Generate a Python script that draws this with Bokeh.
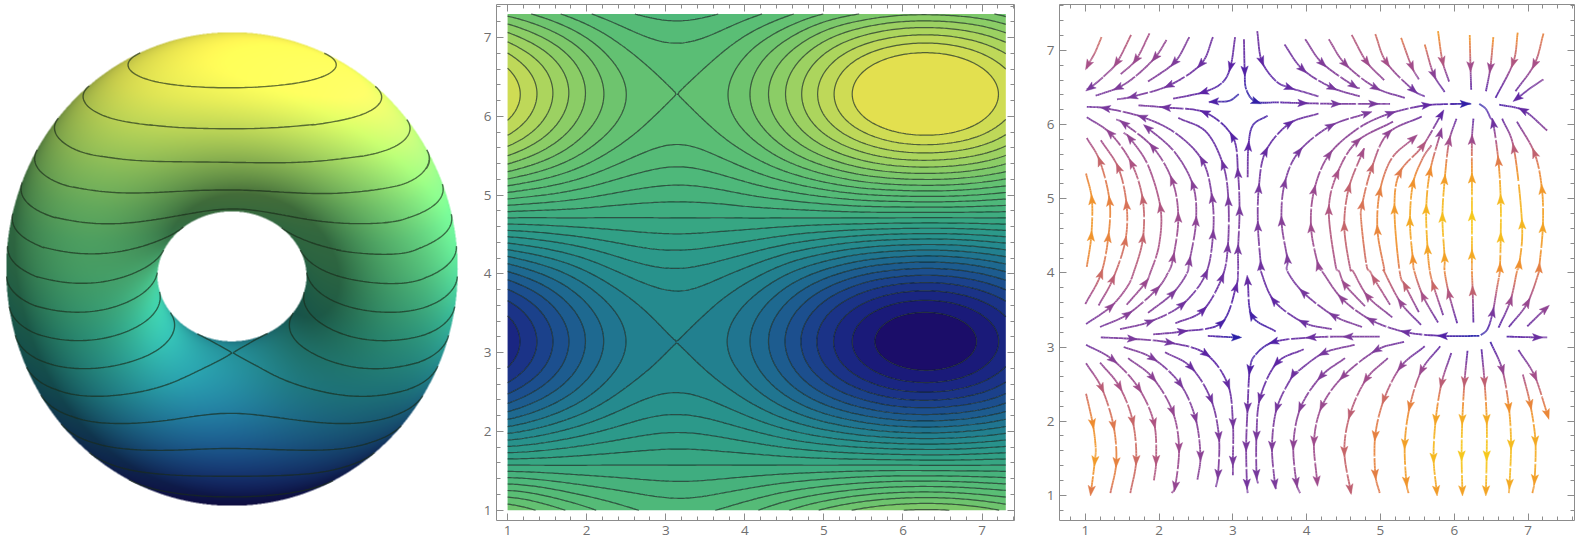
import numpy as np
from bokeh.embed import file_html
from bokeh.layouts import row
from bokeh.models import ColumnDataSource, CustomLabelingPolicy, FixedTicker, LinearAxis, Range1d
from bokeh.plotting import figure
from bokeh.plotting.contour import contour_data
from bokeh.resources import INLINE

# ------------------------------------------------------------- data
X_SAMPLES = [1.0, 1.45, 1.9, 2.35, 2.8, 3.25, 3.7, 4.15, 4.6, 5.05, 5.5, 5.95, 6.4, 6.85, 7.3]
Y_SAMPLES = [1.0, 1.45, 1.9, 2.35, 2.8, 3.25, 3.7, 4.15, 4.6, 5.05, 5.5, 5.95, 6.4, 6.85, 7.3]
Z_TABLE = [
    [1.37, 1.15, .91, .70, .57, .54, .62, .79, 1.02, 1.26, 1.46, 1.59, 1.62, 1.54, 1.36],
    [.31, .26, .20, .16, .13, .12, .14, .18, .23, .28, .33, .36, .36, .34, .31],
    [-.82, -.69, -.54, -.42, -.34, -.32, -.37, -.47, -.61, -.75, -.87, -.95, -.97, -.92, -.82],
    [-1.79, -1.49, -1.18, -.91, -.74, -.71, -.81, -1.03, -1.33, -1.64, -1.90, -2.07, -2.10, -2.00, -1.78],
    [-2.39, -2.00, -1.58, -1.22, -1.00, -.95, -1.09, -1.38, -1.78, -2.20, -2.55, -2.77, -2.82, -2.68, -2.38],
    [-2.52, -2.11, -1.67, -1.29, -1.05, -1.00, -1.15, -1.46, -1.88, -2.32, -2.69, -2.93, -2.98, -2.83, -2.51],
    [-2.15, -1.80, -1.42, -1.10, -.90, -.85, -.98, -1.24, -1.60, -1.98, -2.30, -2.50, -2.54, -2.41, -2.14],
    [-1.36, -1.13, -.90, -.69, -.56, -.54, -.62, -.78, -1.01, -1.24, -1.45, -1.57, -1.60, -1.52, -1.35],
    [-.28, -.24, -.19, -.15, -.12, -.11, -.13, -.16, -.21, -.26, -.30, -.33, -.34, -.32, -.28],
    [.84, .70, .56, .43, .35, .33, .38, .49, .62, .77, .90, .97, .99, .94, .84],
    [1.80, 1.50, 1.19, .92, .75, .71, .82, 1.04, 1.34, 1.65, 1.92, 2.09, 2.12, 2.02, 1.79],
    [2.40, 2.00, 1.58, 1.23, 1.00, .95, 1.09, 1.39, 1.78, 2.20, 2.56, 2.78, 2.83, 2.69, 2.39],
    [2.52, 2.11, 1.67, 1.29, 1.05, .9989, 1.14, 1.46, 1.87, 2.31, 2.69, 2.92, 2.97, 2.82, 2.51],
    [2.14, 1.79, 1.42, 1.09, .89, .85, .97, 1.24, 1.59, 1.97, 2.29, 2.49, 2.53, 2.40, 2.13],
    [1.34, 1.12, .88, .68, .56, .53, .61, .77, .99, 1.23, 1.42, 1.55, 1.57, 1.50, 1.33],
]
LEVELS = [-2.8, -2.6, -2.4, -2.2, -2.0, -1.8, -1.6, -1.4, -1.2, -1.0, -.8, -.6, -.4, -.2, 0.0,
          .2, .4, .6, .8, 1.0, 1.2, 1.4, 1.6, 1.8, 2.0, 2.2, 2.4, 2.6]
TORUS_LEVELS = [-2.85, -2.48, -2.11, -1.74, -1.37, -1.0, -.63, -.26, .11, .48, .85, 1.22, 1.59, 1.96, 2.33, 2.7]
COLOR_VALUES = [-3.0, -2.6, -2.2, -1.8, -1.4, -1.0, -.6, -.2, .2, .6, 1.0, 1.4, 1.8, 2.2, 2.6, 3.0]
COLOR_HEX = ["#1b0a66", "#1a1f7f", "#1b3a8a", "#1c568f", "#1f6f90", "#23868f", "#2a968b", "#33a385",
             "#43b07e", "#52ba78", "#5dbf74", "#74c66c", "#93cf64", "#b5d75b", "#d8dd52", "#e9e14d"]
SPEED_VALUES = [0.0, .5, 1.0, 1.5, 2.0, 2.3, 2.6, 3.0]
SPEED_HEX = ["#1f1fa8", "#5a23a5", "#7a3a9c", "#a85088", "#da7455", "#ee8c30", "#f3a425", "#f6c81c"]
MAJOR_TICKS = [1, 2, 3, 4, 5, 6, 7]
MINOR_TICKS = [.8, 1.2, 1.4, 1.6, 1.8, 2.2, 2.4, 2.6, 2.8, 3.2, 3.4, 3.6, 3.8, 4.2, 4.4, 4.6, 4.8,
               5.2, 5.4, 5.6, 5.8, 6.2, 6.4, 6.6, 6.8, 7.2, 7.4, 7.6]

# Streamlines in flow order; a third element 1 marks an arrowhead at that point.
STREAMS = [
    [(1.22,7.18),(1.13,6.97),(1.04,6.81,1),(1.02,6.76)],
    [(1.62,7.21),(1.43,6.84,1),(1.25,6.65),(1.07,6.50,1),(1.02,6.48)],
    [(1.87,7.23),(1.69,6.88,1),(1.48,6.68)],
    [(2.10,7.14),(1.95,6.91,1),(1.69,6.66),(1.45,6.50,1),(1.14,6.39)],
    [(2.41,7.18),(2.21,6.84,1),(1.85,6.58)],
    [(2.73,7.18),(2.57,6.82,1),(2.14,6.53,1),(1.65,6.38,1),(1.43,6.34)],
    [(3.03,7.18),(2.97,6.79,1),(2.86,6.57),(2.61,6.44,1),(2.19,6.35)],
    [(3.15,7.15),(3.16,6.73,1),(3.18,6.48),(3.31,6.31,1),(3.62,6.30),(3.94,6.29,1),(4.39,6.28,1),(4.90,6.28,1),(5.13,6.28)],
    [(3.33,7.26),(3.39,6.86,1),(3.58,6.59),(3.76,6.50,1),(3.96,6.44),(4.16,6.38)],
    [(3.70,7.08),(3.94,6.75,1),(4.34,6.50,1),(4.72,6.38)],
    [(3.98,7.15),(4.21,6.83,1),(4.63,6.53,1),(4.72,6.49)],
    [(4.30,7.15),(4.52,6.82,1),(4.93,6.50,1),(5.33,6.36)],
    [(4.61,7.21),(4.81,6.85,1),(5.05,6.60)],
    [(4.93,7.22),(5.08,6.84,1),(5.44,6.47,1),(5.60,6.38)],
    [(5.28,7.17),(5.42,6.79,1),(5.52,6.61)],
    [(5.60,7.08),(5.72,6.68,1),(5.87,6.44)],
    [(5.78,7.26),(5.84,6.86,1),(5.93,6.58)],
    [(6.21,7.21),(6.22,6.79,1),(6.23,6.47)],
    [(6.53,7.18),(6.49,6.77,1),(6.43,6.45)],
    [(6.86,7.24),(6.80,6.84,1),(6.56,6.36)],
    [(7.21,7.23),(7.09,6.82,1),(6.83,6.45)],
    [(7.21,6.61),(7.03,6.49),(6.86,6.36,1)],
    [(7.26,5.92),(6.94,6.19,1),(6.61,6.27)],
    [(6.34,3.15),(5.85,3.15,1),(5.35,3.20,1),(4.88,3.36,1),(4.48,3.65,1),(4.21,4.02),(4.16,4.09,1),(4.06,4.60,1),(4.10,5.11,1),(4.30,5.59,1),(4.70,5.95),(5.13,6.15,1),(5.62,6.26,1),(6.14,6.28,1),(6.23,6.28)],
    [(4.79,3.55),(4.52,3.84,1),(4.44,4.02),(4.39,4.11),(4.30,4.84,1),(4.41,5.33,1),(4.68,5.77,1),(5.17,6.04)],
    [(5.16,3.40),(4.83,3.68,1),(4.63,4.02),(4.59,4.06),(4.51,4.62,1),(4.57,5.14,1),(4.75,5.61,1),(4.78,5.68)],
    [(5.13,3.57),(4.92,3.91,1),(4.86,4.02),(4.81,4.11),(4.74,4.69),(4.75,4.91,1),(4.88,5.41,1),(5.10,5.88,1),(5.56,6.11)],
    [(5.55,3.30),(5.28,3.59,1),(5.05,4.02),(5.05,4.06),(4.96,4.57,1),(4.99,5.09,1),(5.15,5.54),(5.44,5.81,1)],
    [(5.52,3.47),(5.34,3.82,1),(5.26,4.02),(5.19,4.85,1),(5.26,5.35,1),(5.57,5.71,1),(5.82,6.13,1)],
    [(5.78,3.33),(5.58,3.68,1),(5.46,4.02),(5.44,4.18,1),(5.40,4.69,1),(5.44,5.20,1),(5.57,5.54),(5.69,5.72)],
    [(5.85,3.43),(5.72,3.82,1),(5.67,4.02),(5.64,4.31,1),(5.62,4.85,1),(5.67,5.36,1),(5.81,5.88,1)],
    [(6.04,3.32),(5.93,3.71,1),(5.87,4.02),(5.87,4.20,1),(5.84,4.74,1),(5.87,5.25,1),(5.93,5.77,1),(6.03,6.08)],
    [(6.26,3.33),(6.25,3.75,1),(6.24,4.02),(6.24,4.24,1),(6.24,4.76,1),(6.24,5.27,1),(6.24,5.79,1),(6.26,6.08)],
    [(6.36,3.16),(6.45,3.24),(6.52,3.46,1),(6.58,3.80),(6.62,4.02),(6.62,4.06,1),(6.63,4.47,1),(6.63,4.98,1),(6.60,5.50,1),(6.53,6.01,1),(6.49,6.09),(6.43,6.21),(6.34,6.28)],
    [(6.60,3.26),(6.76,3.62,1),(6.85,4.02),(6.88,4.11,1),(6.92,4.65,1),(6.81,5.67,1),(6.65,6.08)],
    [(6.74,3.27),(6.99,3.59,1),(7.15,4.02),(7.15,4.06,1),(7.20,4.60,1),(7.19,5.12,1),(7.09,5.61,1),(6.85,6.04)],
    [(6.99,3.28),(7.23,3.51,1),(7.27,3.53)],
    [(6.71,3.14),(7.12,3.13,1),(7.26,3.13)],
    [(5.32,3.07),(4.95,2.96,1),(4.50,2.61,1),(4.21,2.21,1),(4.10,1.74,1),(4.14,1.20,1)],
    [(5.10,2.85),(4.81,2.57,1),(4.59,2.10,1),(4.51,1.60,1),(4.59,1.09,1),(4.60,1.03)],
    [(5.60,3.01),(5.28,2.74,1),(5.05,2.30,1),(4.93,1.81,1),(4.93,1.29,1),(4.99,1.03)],
    [(5.81,3.01),(5.56,2.69,1),(5.40,2.21,1),(5.33,1.70,1),(5.35,1.19,1),(5.38,1.03)],
    [(5.96,2.92),(5.83,2.52,1),(5.75,2.03,1),(5.72,1.51,1),(5.76,1.07,1)],
    [(6.18,2.95),(6.14,2.54,1),(6.11,2.03,1),(6.10,1.54,1),(6.11,1.07,1)],
    [(6.37,2.97),(6.41,2.54,1),(6.44,2.03,1),(6.44,1.54,1),(6.43,1.07,1)],
    [(6.49,3.07),(6.65,2.70,1),(6.74,2.19,1),(6.77,1.69,1),(6.75,1.16,1),(6.74,1.03)],
    [(6.87,2.96),(7.09,2.61,1),(7.26,2.10,1)],
    [(6.93,2.63),(7.03,2.23,1),(7.10,1.74,1),(7.09,1.22,1),(7.06,1.03)],
    [(1.02,4.08),(1.08,4.49,1),(1.09,4.98,1),(1.01,5.34)],
    [(1.00,3.58),(1.21,3.98,1),(1.31,4.47,1),(1.33,4.96,1),(1.20,5.50,1),(1.02,5.82)],
    [(1.18,3.56),(1.37,3.91,1),(1.54,4.42,1),(1.56,4.91,1),(1.45,5.41,1),(1.21,5.79)],
    [(1.01,3.31),(1.34,3.54,1),(1.56,3.80),(1.66,4.02),(1.78,4.46,1),(1.78,4.98,1),(1.63,5.47,1),(1.34,5.88,1),(1.02,6.10)],
    [(1.56,3.57),(1.81,3.86,1),(1.88,4.00),(2.00,4.38),(2.02,4.87,1),(1.85,5.45),(1.61,5.81,1),(1.52,5.89)],
    [(1.20,3.27),(1.57,3.44,1),(1.96,3.77,1),(2.12,4.00),(2.19,4.20,1),(2.26,4.74,1),(2.18,5.24,1),(1.92,5.69,1),(1.53,6.01,1),(1.42,6.07)],
    [(1.85,3.46),(2.18,3.72,1),(2.37,3.98),(2.41,4.15,1),(2.50,4.69,1),(2.46,5.18,1),(2.21,5.63),(1.85,5.95,1),(1.81,5.97)],
    [(1.47,3.24),(1.87,3.34,1),(2.31,3.57,1),(2.63,3.98,1),(2.73,4.51,1),(2.72,5.00,1),(2.59,5.51,1),(2.23,5.88),(1.78,6.10,1),(1.28,6.22,1),(1.02,6.24)],
    [(2.22,3.32),(2.59,3.49,1),(2.85,3.93,1),(2.93,4.33,1),(2.94,4.96,1),(2.87,5.45,1),(2.64,5.90),(2.26,6.09)],
    [(1.92,3.17),(2.31,3.21,1),(2.84,3.32,1),(3.04,3.80,1),(3.07,4.02),(3.07,4.31,1),(3.09,4.83,1),(3.07,5.34,1),(3.00,5.83,1),(2.63,6.16,1),(2.10,6.23,1),(1.72,6.26)],
    [(3.08,6.41),(2.95,6.32),(2.75,6.31,1),(2.68,6.30)],
    [(3.20,5.29),(3.21,5.70,1),(3.27,5.99),(3.47,6.12)],
    [(4.34,3.24),(3.96,3.33,1),(3.56,3.62,1),(3.38,4.02),(3.38,4.09,1),(3.34,4.62,1),(3.35,5.13,1),(3.44,5.63,1),(3.76,6.01,1),(4.16,6.15)],
    [(4.75,3.27),(4.37,3.42,1),(3.96,3.73,1),(3.74,4.02),(3.74,4.18,1),(3.66,4.69,1),(3.70,5.20,1),(3.89,5.63,1),(4.32,5.98,1),(4.81,6.15,1)],
    [(1.21,3.13),(1.63,3.11,1),(2.14,3.06,1),(2.63,2.91,1),(2.93,2.50,1),(3.00,1.98,1),(3.00,1.47,1),(3.00,1.27)],
    [(1.01,2.37),(1.10,1.97,1),(1.14,1.65),(1.13,1.47,1),(1.08,1.07,1)],
    [(1.01,2.78),(1.22,2.45,1),(1.38,1.95,1),(1.42,1.45,1),(1.34,1.03)],
    [(1.20,2.79),(1.46,2.47,1),(1.64,2.01,1),(1.69,1.48,1),(1.61,1.03)],
    [(1.01,3.03),(1.37,2.83,1),(1.72,2.45,1),(1.93,1.98,1),(1.96,1.48,1),(1.93,1.20)],
    [(1.58,2.85),(1.91,2.59,1),(2.18,2.14,1),(2.27,1.65,1),(2.22,1.13,1),(2.17,1.03)],
    [(1.52,3.00),(1.91,2.85,1),(2.28,2.51,1),(2.49,2.05,1),(2.56,1.54,1),(2.52,1.21)],
    [(2.08,2.93),(2.43,2.73,1),(2.70,2.30,1),(2.81,1.80,1),(2.80,1.29,1),(2.77,1.11)],
    [(2.66,3.15),(3.04,3.13,1),(3.08,3.15)],
    [(3.58,3.21),(3.26,3.42,1),(3.20,3.89,1)],
    [(4.99,3.14),(4.57,3.14,1),(4.07,3.13,1),(3.56,3.07,1),(3.31,2.90),(3.23,2.70,1),(3.20,2.19,1),(3.18,1.67,1),(3.19,1.16,1),(3.20,1.03)],
    [(3.96,2.97),(3.60,2.79,1),(3.37,2.32,1),(3.32,1.81,1),(3.32,1.29,1),(3.34,1.16)],
    [(4.65,3.03),(4.23,2.92,1),(3.89,2.68),(3.82,2.63,1),(3.60,2.19,1),(3.53,1.67,1),(3.57,1.16,1),(3.59,1.09)],
    [(4.52,2.85),(4.20,2.61,1),(3.92,2.19,1),(3.82,1.69,1),(3.86,1.18,1),(3.91,1.03)],
]

# ------------------------------------------------------------- helpers
GRAY = "#8c8c8c"
LABEL = "#6f6f6f"


def weights(nodes, t):
    """Smooth display-resolution weights over the read-off table."""
    nodes = np.asarray(nodes, float)
    h = nodes[1] - nodes[0]
    out = np.zeros((len(t), len(nodes)))
    for r, tv in enumerate(t):
        i = int(np.clip(np.floor((tv - nodes[0]) / h) - 2, 0, len(nodes) - 6))
        for j in range(i, i + 6):
            w = 1.0
            for m in range(i, i + 6):
                if m != j:
                    w *= (tv - nodes[m]) / (nodes[j] - nodes[m])
            out[r, j] = w
    return out


def hex_rgb(cols):
    return np.array([[int(c[i:i + 2], 16) for i in (1, 3, 5)] for c in cols], float)


def ramp(v, vals, cols):
    rgb_ = hex_rgb(cols)
    return np.stack([np.interp(v, vals, rgb_[:, k]) for k in range(3)], axis=-1)


def to_hex(c):
    return "#%02x%02x%02x" % tuple(int(round(a_)) for a_ in np.clip(c, 0, 255))


table = np.array(Z_TABLE)
xf = np.linspace(X_SAMPLES[0], X_SAMPLES[-1], 211)
yf = np.linspace(Y_SAMPLES[0], Y_SAMPLES[-1], 211)
Zf = weights(Y_SAMPLES, yf) @ table @ weights(X_SAMPLES, xf).T

# ------------------------------------------------------------- torus view
TILT = np.radians(28.0)
DIST = 22.0
LIGHT = np.array([0.42, 0.50, 0.76])
LIGHT = LIGHT / np.linalg.norm(LIGHT)
BOX = (6.0, 457.0, 32.0, 505.0)
c_t, s_t = np.cos(TILT), np.sin(TILT)


def project(u, v):
    ring = 2 + np.cos(u)
    xr, hh, zz = ring * np.sin(v), ring * np.cos(v), np.sin(u)
    up = hh * c_t - zz * s_t
    d = hh * s_t + zz * c_t
    k = DIST / (DIST - d)
    return xr * k, up * k, d


n_u, n_v = 1600, 3400
u_s = 1 + 2 * np.pi * np.arange(n_u) / n_u
v_s = 1 + 2 * np.pi * np.arange(n_v) / n_v
Zt = weights(Y_SAMPLES, v_s) @ table @ weights(X_SAMPLES, u_s).T
UU, VV = np.meshgrid(u_s, v_s)
sx_, sy_, dep = project(UU, VV)
xmin, xmax, ymin, ymax = sx_.min(), sx_.max(), sy_.min(), sy_.max()
scale_x = (BOX[1] - BOX[0]) / (xmax - xmin)
scale_y = (BOX[3] - BOX[2]) / (ymax - ymin)


def to_page(xr, up):
    return BOX[0] + (xr - xmin) * scale_x, BOX[2] + (ymax - up) * scale_y


T_W, T_H = 472, 541
SS = 2
px, py = to_page(sx_, sy_)
ix = np.clip((px * SS).astype(int), 0, T_W * SS - 1).ravel()
iy = np.clip((py * SS).astype(int), 0, T_H * SS - 1).ravel()
order = np.argsort(dep.ravel())
buf = -np.ones((T_H * SS, T_W * SS), dtype=np.int64)
buf[iy[order], ix[order]] = order
# close single-pixel sampling holes
left, right = np.roll(buf, 1, axis=1), np.roll(buf, -1, axis=1)
hole = (buf < 0) & (left >= 0) & (right >= 0)
buf[hole] = left[hole]
mask = buf >= 0
win = buf[mask]
uw, vw = UU.ravel()[win], VV.ravel()[win]
nx = np.cos(uw) * np.sin(vw)
nh = np.cos(uw) * np.cos(vw)
nz = np.sin(uw)
n_up = nh * c_t - nz * s_t
n_to = nh * s_t + nz * c_t
diff = np.clip(nx * LIGHT[0] + n_up * LIGHT[1] + n_to * LIGHT[2], 0, 1)
shade = 0.50 + 0.62 * diff + 0.35 * np.clip(nx, 0, 1) ** 3
base = ramp(Zt.ravel()[win], COLOR_VALUES, COLOR_HEX) * 1.08
rgb = np.clip(base * shade[:, None], 0, 255)
depth_buf = np.full(buf.shape, -np.inf)
depth_buf[mask] = dep.ravel()[win]
canvas = np.zeros((T_H * SS, T_W * SS, 4))
canvas[mask, :3] = rgb
canvas[mask, 3] = 1.0
pm = canvas.copy()
pm[..., :3] *= pm[..., 3:4]
small = pm.reshape(T_H, SS, T_W, SS, 4).mean(axis=(1, 3))
a = small[..., 3:4]
col = np.where(a > 0, small[..., :3] / np.maximum(a, 1e-6), 255)
rgba = np.zeros((T_H, T_W), dtype=np.uint32)
view8 = rgba.view(np.uint8).reshape(T_H, T_W, 4)
view8[..., :3] = np.clip(col, 0, 255).astype(np.uint8)
view8[..., 3] = np.clip(a[..., 0] * 255, 0, 255).astype(np.uint8)

p1 = figure(width=T_W, height=T_H, x_range=Range1d(0, T_W), y_range=Range1d(0, T_H),
            toolbar_location=None, output_backend="svg", x_axis_location=None, y_axis_location=None,
            min_border=0, outline_line_color=None, background_fill_color="white", border_fill_color="white",
            frame_align=False)
p1.grid.visible = False
p1.image_rgba(image=[rgba[::-1]], x=0, y=0, dw=T_W, dh=T_H)

lines = contour_data(xf, yf, Zf, TORUS_LEVELS, want_fill=False, want_line=True).line_data
tx, ty = [], []
for xs_l, ys_l in zip(lines.xs, lines.ys):
    xs_l, ys_l = np.asarray(xs_l, float), np.asarray(ys_l, float)
    good = ~np.isnan(xs_l)
    vx, vy, vd = project(np.nan_to_num(xs_l), np.nan_to_num(ys_l))
    qx, qy = to_page(vx, vy)
    jx = np.clip((qx * SS).astype(int), 0, T_W * SS - 1)
    jy = np.clip((qy * SS).astype(int), 0, T_H * SS - 1)
    vis = good & (vd >= depth_buf[jy, jx] - 0.1)
    tx.extend(np.where(vis, qx, np.nan).tolist() + [np.nan])
    ty.extend(np.where(vis, T_H - qy, np.nan).tolist() + [np.nan])
p1.line(tx, ty, line_color="#1a2a1a", line_alpha=0.66, line_width=1.4)

NO_LABELS = CustomLabelingPolicy(code="for (const i of Array.from(indices)) indices.unset(i); return indices;")


# ------------------------------------------------------------- framed panels
def frame(p):
    for side in ("above", "right"):
        ax = LinearAxis(major_label_text_font_size="1px", major_label_standoff=0, major_label_policy=NO_LABELS)
        p.add_layout(ax, side)
    for ax in p.axis:
        ax.ticker = FixedTicker(ticks=MAJOR_TICKS, minor_ticks=MINOR_TICKS)
        ax.major_tick_in, ax.major_tick_out = 7, 0
        ax.minor_tick_in, ax.minor_tick_out = 4, 0
        ax.axis_line_color = GRAY
        ax.major_tick_line_color = GRAY
        ax.minor_tick_line_color = GRAY
        ax.major_label_text_color = LABEL
    for ax in list(p.below) + list(p.left):
        ax.major_label_text_font = "Open Sans"
        ax.major_label_text_font_size = "13.5px"
        ax.major_label_standoff = 5
    p.grid.visible = False
    p.outline_line_color = None


levels_all = [-3.2] + LEVELS + [3.2]
mids = [(levels_all[i] + levels_all[i + 1]) / 2 for i in range(len(levels_all) - 1)]
mids[0], mids[-1] = -2.95, 2.85
band_cols = [to_hex(ramp(m, COLOR_VALUES, COLOR_HEX)) for m in mids]

p2 = figure(width=568, height=541, x_range=Range1d(0.86, 7.41), y_range=Range1d(0.87, 7.42),
            toolbar_location=None, output_backend="svg", frame_align=False,
            min_border_left=24, min_border_right=26, min_border_top=2, min_border_bottom=21)
p2.contour(xf, yf, Zf, levels_all, fill_color=band_cols, line_color="#10201a", line_alpha=0.68, line_width=1.2)
frame(p2)

p3 = figure(width=538, height=541, x_range=Range1d(0.65, 7.63), y_range=Range1d(0.66, 7.62),
            toolbar_location=None, output_backend="svg", frame_align=False,
            min_border_left=19, min_border_right=0, min_border_top=2, min_border_bottom=21)
frame(p3)

gy, gx = np.gradient(Zf, yf, xf)
speed = np.hypot(gx, gy)


def speed_at(x, y):
    i = np.clip(((np.asarray(x) - xf[0]) / (xf[1] - xf[0])).round().astype(int), 0, len(xf) - 1)
    j = np.clip(((np.asarray(y) - yf[0]) / (yf[1] - yf[0])).round().astype(int), 0, len(yf) - 1)
    return speed[j, i]


SUB = 12
seg_x, seg_y, seg_c = [], [], []
ar_x, ar_y, ar_c = [], [], []
for st in STREAMS:
    P = np.array([q[:2] for q in st], float)
    Q = np.vstack([2 * P[0] - P[1], P, 2 * P[-1] - P[-2]])
    pts = []
    for i in range(1, len(Q) - 2):
        for k in range(SUB):
            t = k / SUB
            pts.append(0.5 * (2 * Q[i] + (Q[i + 1] - Q[i - 1]) * t
                              + (2 * Q[i - 1] - 5 * Q[i] + 4 * Q[i + 1] - Q[i + 2]) * t ** 2
                              + (3 * Q[i] - Q[i - 1] - 3 * Q[i + 1] + Q[i + 2]) * t ** 3))
    pts.append(P[-1])
    pts = np.array(pts)
    sp = speed_at(pts[:, 0], pts[:, 1])
    cols = ramp(sp, SPEED_VALUES, SPEED_HEX)
    arrow_nodes = [n for n, q in enumerate(st) if len(q) == 3]
    gaps = {(arrow_nodes[m] + arrow_nodes[m + 1]) * SUB // 2 for m in range(len(arrow_nodes) - 1)}
    for i in range(len(pts) - 1):
        p0, p1_ = pts[i], pts[i + 1]
        if i in gaps:
            # a short break in the line, half a step long
            for e0, e1 in ((p0, p0 + (p1_ - p0) * .25), (p0 + (p1_ - p0) * .75, p1_)):
                seg_x.append([float(e0[0]), float(e1[0])])
                seg_y.append([float(e0[1]), float(e1[1])])
                seg_c.append(to_hex(cols[i]))
            continue
        seg_x.append(pts[i:i + 2, 0].tolist())
        seg_y.append(pts[i:i + 2, 1].tolist())
        seg_c.append(to_hex(cols[i]))
    for n in arrow_nodes:
        i = n * SUB
        a_i, b_i = max(i - 2, 0), min(i + 2, len(pts) - 1)
        dv = pts[b_i] - pts[a_i]
        dv = dv / np.hypot(*dv)
        nv = np.array([-dv[1], dv[0]])
        c0 = pts[i]
        poly = [c0 + dv * .08, c0 - dv * .06 + nv * .05, c0 - dv * .03, c0 - dv * .06 - nv * .05]
        ar_x.append([float(q[0]) for q in poly])
        ar_y.append([float(q[1]) for q in poly])
        ar_c.append(to_hex(cols[i]))

p3.multi_line("x", "y", line_color="c", line_width=1.8, line_alpha=0.92,
              source=ColumnDataSource(dict(x=seg_x, y=seg_y, c=seg_c)))
p3.patches("x", "y", fill_color="c", line_color="c", line_width=0.4,
           source=ColumnDataSource(dict(x=ar_x, y=ar_y, c=ar_c)))

page = row(p1, p2, p3, spacing=0)
open("out.html", "w").write(file_html(page, INLINE))
